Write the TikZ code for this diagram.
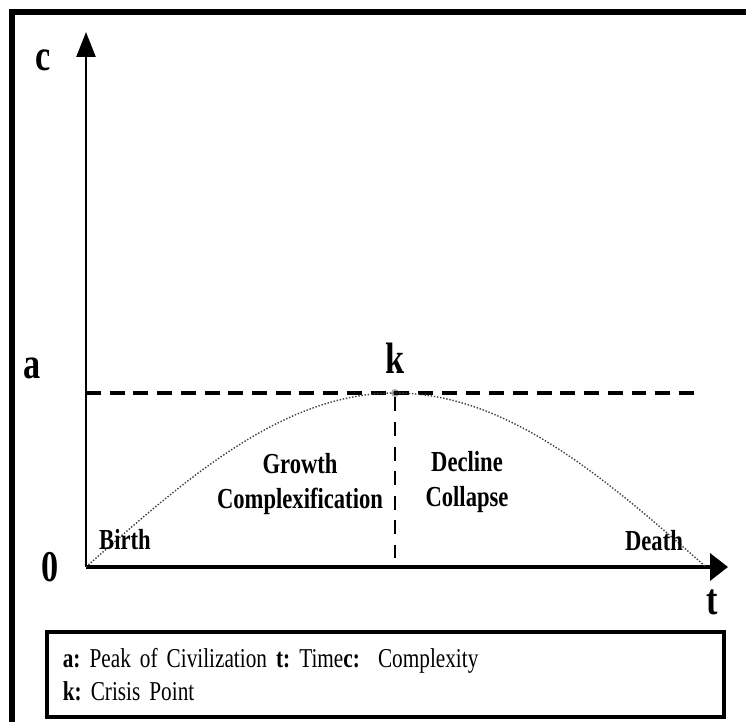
\documentclass[tikz,border=0pt]{standalone}
\usepackage{fontspec}
\setmainfont{Liberation Serif}[FakeStretch=0.78]
\usetikzlibrary{positioning, arrows.meta}
\newcommand{\tightspace}{\frenchspacing\spaceskip=0.2em plus 0.1em\relax}

\begin{document}
\begin{tikzpicture}[x=0.02cm, y=-0.02cm,
    axis label/.style={font=\fontsize{25}{29}\selectfont\bfseries, inner sep=0pt},
    phase label/.style={font=\fontsize{16.5}{19.5}\selectfont\bfseries, align=center, inner sep=0pt},
    peak line/.style={line width=2.4pt, dash pattern=on 8.5pt off 5pt},
    crisis line/.style={line width=1.6pt, dash pattern=on 8pt off 6pt}]

    % Canvas and outer frame
    \useasboundingbox (0,0) rectangle (746,722);
    \clip (0,0) rectangle (746,722);
    \draw[line width=3pt] (12,12) rectangle (800,800);

    % Axes
    \coordinate (O) at (86,567);
    \coordinate (c-tip) at (86,32);
    \coordinate (t-tip) at (728,567);
    \draw[line width=1.4pt, -{Triangle[length=0.5cm, width=0.38cm]}] (O) -- (c-tip);
    \draw[line width=2pt, -{Triangle[length=0.36cm, width=0.54cm]}] (O) -- (t-tip);

    % Axis labels
    \node[axis label] (c-lab) at (43,60) {c};
    \node[axis label] (a-lab) at (32,368) {a};
    \node[axis label] (zero-lab) at (50,567) {0};
    \node[axis label] (t-lab) at (712,602) {t};

    % Crisis point and dashed guides
    \node[circle, fill=gray!70, inner sep=0pt, minimum size=8*0.02cm] (k) at (395,393) {};
    \node[axis label, above=0.3cm of k] (k-lab) {k};
    \coordinate (a-start) at (86,393);
    \coordinate (a-end) at (695,393);
    \coordinate (k-foot) at (395,558);
    \coordinate (t-end) at (706,567);
    \draw[peak line] (a-start) -- (a-end);
    \draw[crisis line] (k) -- (k-foot);

    % Life curve of the civilization
    \draw[densely dotted, line width=0.8pt, black!75] (O) sin (k.center) cos (t-end);

    % Phase labels
    \node[phase label] (birth) at (125,540) {Birth};
    \node[phase label] (death) at (654,541) {Death};
    \node[phase label] (growth) at (300,484) {Growth\\Complexification};
    \node[phase label] (decline) at (467,482) {Decline\\Collapse};

    % Legend
    \node[draw, line width=2pt, anchor=north west, minimum width=677*0.02cm, minimum height=85*0.02cm,
          text width=12.9cm, inner xsep=0.3cm, align=left, font=\fontsize{15.5}{18.8}\selectfont\tightspace]
          (legend) at (45,630) {\textbf{a:} Peak of Civilization \textbf{t:} Time\textbf{c:}\ \ Complexity\\
          \textbf{k:} Crisis Point};

\end{tikzpicture}
\end{document}
